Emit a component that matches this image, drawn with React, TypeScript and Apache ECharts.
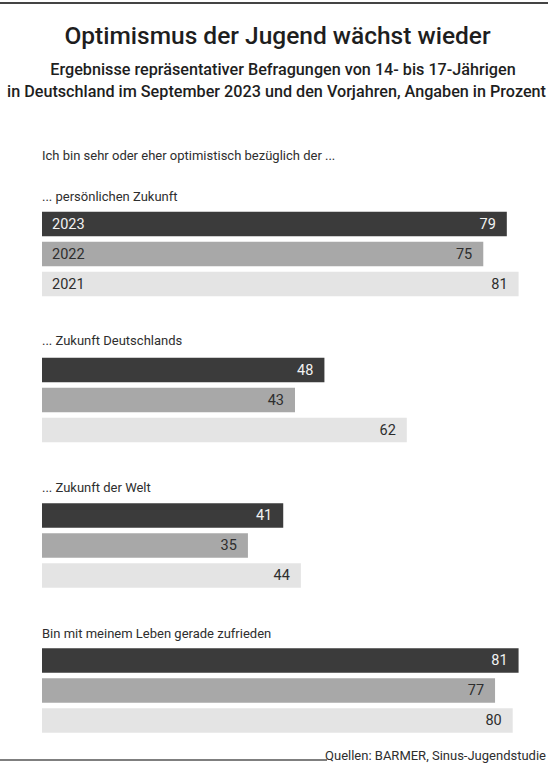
import React, { useEffect, useRef } from "react";
import * as echarts from "echarts";

const years = ["2023", "2022", "2021"];
const groupTitles = [
  "... persönlichen Zukunft",
  "... Zukunft Deutschlands",
  "... Zukunft der Welt",
  "Bin mit meinem Leben gerade zufrieden",
];
const persoenlicheZukunft = [79, 75, 81];
const zukunftDeutschlands = [48, 43, 62];
const zukunftDerWelt = [41, 35, 44];
const lebenZufrieden = [81, 77, 80];
const groupValues = [persoenlicheZukunft, zukunftDeutschlands, zukunftDerWelt, lebenZufrieden];

const title = "Optimismus der Jugend wächst wieder";
const subtitle1 = "Ergebnisse repräsentativer Befragungen von 14- bis 17-Jährigen";
const subtitle2 = "in Deutschland im September 2023 und den Vorjahren, Angaben in Prozent";
const intro = "Ich bin sehr oder eher optimistisch bezüglich der ...";
const source = "Quellen: BARMER, Sinus-Jugendstudie";

const FONT = "Roboto, 'Open Sans', sans-serif";
const barColors = ["#3b3b3b", "#a8a8a8", "#e4e4e4"];
const labelColors = ["#f2f2f2", "#2e2e2e", "#2e2e2e"];
const gridTops = [209, 355, 500.5, 645.5];
const headerYs = [196, 340, 487, 633];

export default function App() {
  const ref = useRef<HTMLDivElement>(null);
  useEffect(() => {
    const chart = echarts.init(ref.current!, null, { renderer: "svg" });
    const grids = gridTops.map((t) => ({ left: 42, width: 506, top: t, height: 90 }));
    const xAxes = gridTops.map((_, i) => ({
      type: "value",
      gridIndex: i,
      min: 0,
      max: 86,
      show: false,
    }));
    const yAxes = gridTops.map((_, i) => ({
      type: "category",
      gridIndex: i,
      data: years,
      inverse: true,
      z: 10,
      axisLine: { show: false },
      axisTick: { show: false },
      splitLine: { show: false },
      axisLabel: {
        show: i === 0,
        inside: true,
        margin: 10,
        fontFamily: FONT,
        fontSize: 14.5,
        color: (_v: any, idx: number) => labelColors[idx],
      },
    }));
    const series = groupValues.map((vals, i) => ({
      type: "bar",
      xAxisIndex: i,
      yAxisIndex: i,
      barWidth: 24.5,
      data: vals.map((v, j) => ({
        value: v,
        itemStyle: { color: barColors[j] },
        label: { color: labelColors[j] },
      })),
      label: {
        show: true,
        position: "insideRight",
        distance: 11,
        fontFamily: FONT,
        fontSize: 14.5,
      },
    }));
    const textEl = (x: number, y: number, text: string, size: number, weight: any, align: string, fill = "#2a2a2a") => ({
      type: "text",
      x,
      y,
      style: {
        text,
        fontFamily: FONT,
        fontSize: size,
        fontWeight: weight,
        fill,
        align,
        verticalAlign: "middle",
      },
    });
    const graphics: any[] = [
      { type: "line", shape: { x1: 0, y1: 3, x2: 548, y2: 3 }, style: { stroke: "#444", lineWidth: 2 } },
      textEl(277.5, 35, title, 24.5, 500, "center", "#1e1e1e"),
      textEl(283, 69, subtitle1, 16.2, 500, "center", "#1e1e1e"),
      textEl(276.5, 91, subtitle2, 16.2, 500, "center", "#1e1e1e"),
      textEl(42, 155, intro, 13, 400, "left", "#2e2e2e"),
      ...groupTitles.map((g, i) => textEl(42, headerYs[i], g, 13, 400, "left", "#2e2e2e")),
      { type: "line", shape: { x1: 0, y1: 760, x2: 327, y2: 760 }, style: { stroke: "#555", lineWidth: 1.5 } },
      textEl(546, 755, source, 13, 400, "right", "#2e2e2e"),
    ];
    chart.setOption({
      animation: false,
      backgroundColor: "#ffffff",
      grid: grids,
      xAxis: xAxes,
      yAxis: yAxes,
      series,
      graphic: graphics,
    } as any);
    return () => chart.dispose();
  }, []);
  return (
    <div
      ref={ref}
      style={{ position: "fixed", left: 0, top: 0, width: 548, height: 764, background: "#fff" }}
    />
  );
}
